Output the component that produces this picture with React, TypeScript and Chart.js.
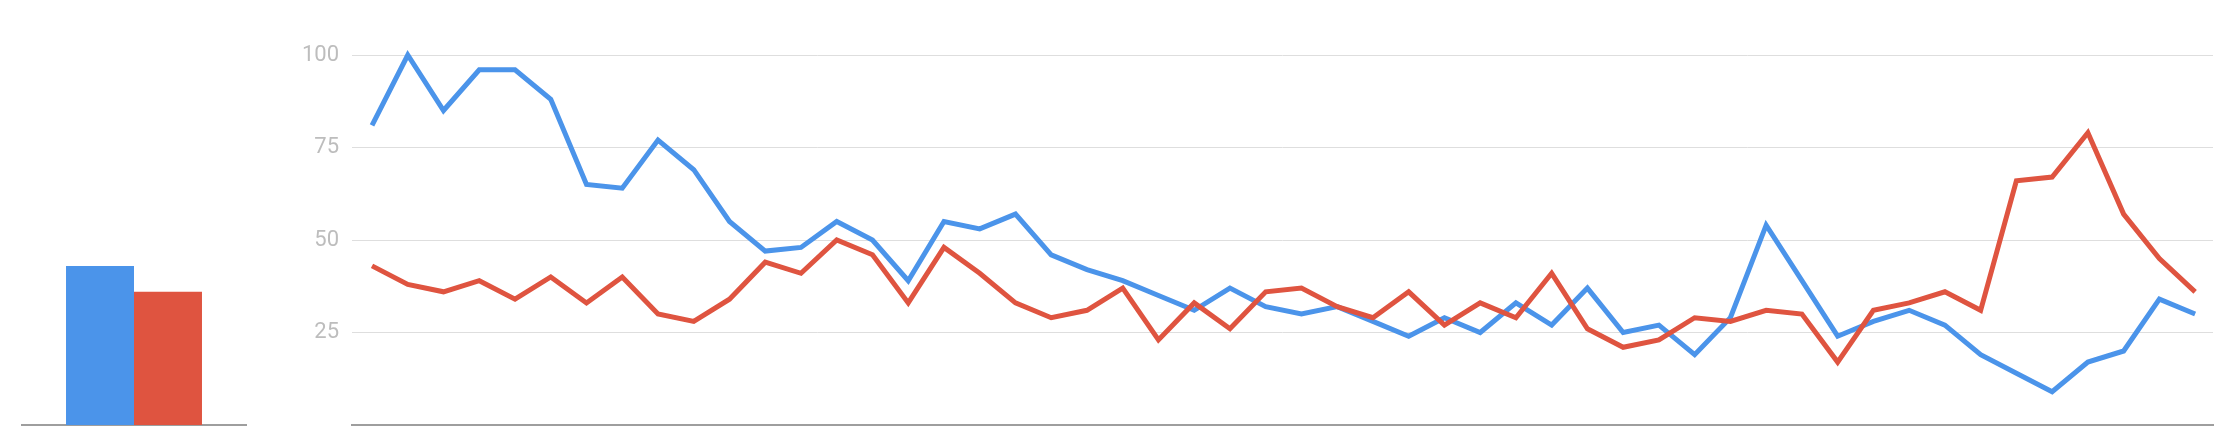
import React, { useEffect, useRef } from 'react';
import { Chart, registerables } from 'chart.js';

Chart.register(...registerables);

// Weekly interest (index of each week) for the two search terms
const weekIndex = [
  0, 1, 2, 3, 4, 5, 6, 7, 8, 9, 10, 11, 12, 13, 14, 15, 16, 17, 18, 19, 20, 21, 22, 23, 24, 25,
  26, 27, 28, 29, 30, 31, 32, 33, 34, 35, 36, 37, 38, 39, 40, 41, 42, 43, 44, 45, 46, 47, 48, 49, 50, 51,
];
const blueSeries = [
  81, 100, 85, 96, 96, 88, 65, 64, 77, 69, 55, 47, 48, 55, 50, 39, 55, 53, 57, 46, 42, 39, 35, 31, 37, 32,
  30, 32, 28, 24, 29, 25, 33, 27, 37, 25, 27, 19, 29, 54, 39, 24, 28, 31, 27, 19, 14, 9, 17, 20, 34, 30,
];
const redSeries = [
  43, 38, 36, 39, 34, 40, 33, 40, 30, 28, 34, 44, 41, 50, 46, 33, 48, 41, 33, 29, 31, 37, 23, 33, 26, 36,
  37, 32, 29, 36, 27, 33, 29, 41, 26, 21, 23, 29, 28, 31, 30, 17, 31, 33, 36, 31, 66, 67, 79, 57, 45, 36,
];

// Averages
const avgLabels = ['Average'];
const blueAverage = [43];
const redAverage = [36];

// Y axis ticks
const yTicks = [0, 25, 50, 75, 100];

const BLUE = '#4b94ea';
const RED = '#df5440';
const GRID = '#dedede';
const AXIS = '#9e9e9e';
const TICK = '#bdbdbd';

function BarPanel() {
  const ref = useRef<HTMLCanvasElement | null>(null);
  useEffect(() => {
    if (!ref.current) return;
    const chart = new Chart(ref.current, {
      type: 'bar',
      data: {
        labels: avgLabels,
        datasets: [
          { data: blueAverage, backgroundColor: BLUE, categoryPercentage: 0.607, barPercentage: 1 },
          { data: redAverage, backgroundColor: RED, categoryPercentage: 0.607, barPercentage: 1 },
        ],
      },
      options: {
        responsive: false,
        animation: false,
        layout: { padding: { left: 22, right: 14, top: 55, bottom: 7 } },
        plugins: { legend: { display: false }, tooltip: { enabled: false } },
        scales: {
          x: {
            grid: { display: false, drawTicks: false },
            ticks: { display: false },
            border: { display: true, color: AXIS, width: 2 },
          },
          y: { display: false, min: yTicks[0], max: yTicks[yTicks.length - 1] },
        },
      },
    });
    return () => chart.destroy();
  }, []);
  return (
    <canvas
      ref={ref}
      width={260}
      height={432}
      style={{ position: 'absolute', left: 0, top: 0, width: 260, height: 432 }}
    />
  );
}

function LinePanel() {
  const ref = useRef<HTMLCanvasElement | null>(null);
  useEffect(() => {
    if (!ref.current) return;
    const lineStyle = {
      borderWidth: 5,
      pointRadius: 0,
      tension: 0,
      fill: false,
      clip: false as any,
      borderJoinStyle: 'miter' as const,
    };
    const chart = new Chart(ref.current, {
      type: 'line',
      data: {
        datasets: [
          {
            ...lineStyle,
            data: weekIndex.map((w, i) => ({ x: w, y: blueSeries[i] })),
            borderColor: BLUE,
            order: 1,
          },
          {
            ...lineStyle,
            data: weekIndex.map((w, i) => ({ x: w, y: redSeries[i] })),
            borderColor: RED,
            order: 0,
          },
        ],
      },
      options: {
        responsive: false,
        animation: false,
        layout: { padding: { left: 0, right: 17, top: 55, bottom: 7 } },
        plugins: { legend: { display: false }, tooltip: { enabled: false } },
        scales: {
          x: {
            type: 'linear',
            min: -0.56,
            max: 51.5,
            grid: { display: false, drawTicks: false },
            ticks: { display: false },
            border: { display: true, color: AXIS, width: 2 },
            afterFit: (scale: any) => {
              scale.height = 0;
              scale.paddingLeft = 0;
              scale.paddingRight = 0;
            },
          },
          y: {
            min: yTicks[0],
            max: yTicks[yTicks.length - 1],
            afterFit: (scale: any) => {
              scale.width = 92;
              scale.paddingTop = 0;
              scale.paddingBottom = 0;
            },
            afterBuildTicks: (scale: any) => {
              scale.ticks = yTicks.map((v) => ({ value: v }));
            },
            grid: {
              drawTicks: false,
              lineWidth: 1,
              color: (ctx: any) => (ctx.tick && ctx.tick.value === 0 ? 'rgba(0,0,0,0)' : GRID),
            },
            border: { display: false },
            ticks: {
              padding: 13,
              color: TICK,
              font: { family: 'Roboto', size: 22 },
              callback: (v: any) => (v === 0 ? '' : String(v)),
            },
          },
        },
      },
    });
    return () => chart.destroy();
  }, []);
  return (
    <canvas
      ref={ref}
      width={1970}
      height={432}
      style={{ position: 'absolute', left: 260, top: 0, width: 1970, height: 432 }}
    />
  );
}

export default function App() {
  return (
    <div
      style={{
        position: 'fixed',
        left: 0,
        top: 0,
        width: 2230,
        height: 432,
        background: '#ffffff',
        overflow: 'hidden',
      }}
    >
      <BarPanel />
      <LinePanel />
    </div>
  );
}
